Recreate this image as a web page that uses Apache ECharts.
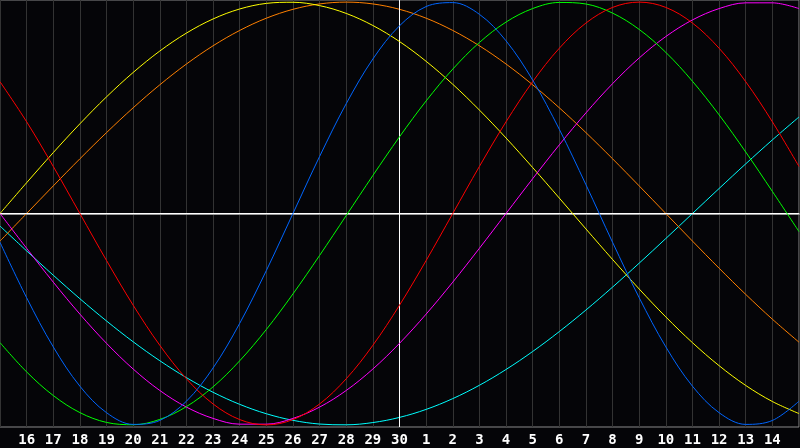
<!DOCTYPE html>
<html>
<head>
<meta charset="utf-8">
<style>
html,body{margin:0;padding:0;background:#050508;}
#chart{width:800px;height:448px;}
</style>
<script src="https://cdn.jsdelivr.net/npm/echarts@6/dist/echarts.min.js"></script>
</head>
<body>
<div id="chart"></div>
<script>
// Day labels along the x axis (offset 0..30)
var dayLabels = [15,16,17,18,19,20,21,22,23,24,25,26,27,28,29,30,1,2,3,4,5,6,7,8,9,10,11,12,13,14,15];
var todayOffset = 15;

// Curve values read per day offset 0..30
var redValues = [0.6235,0.4339,0.2225,0,-0.2225,-0.4339,-0.6235,-0.7818,-0.9010,-0.9749,-1,-0.9749,-0.9010,-0.7818,-0.6235,-0.4339,-0.2225,0,0.2225,0.4339,0.6235,0.7818,0.9010,0.9749,1,0.9749,0.9010,0.7818,0.6235,0.4339,0.2225];
var blueValues = [-0.1362,-0.3984,-0.6311,-0.8170,-0.9423,-0.9977,-0.9791,-0.8880,-0.7308,-0.5196,-0.2698,0,0.2698,0.5196,0.7308,0.8880,0.9791,0.9977,0.9423,0.8170,0.6311,0.3984,0.1362,-0.1362,-0.3984,-0.6311,-0.8170,-0.9423,-0.9977,-0.9791,-0.8880];
var greenValues = [-0.6107,-0.7494,-0.8612,-0.9419,-0.9884,-0.9993,-0.9740,-0.9135,-0.8201,-0.6968,-0.5486,-0.3804,-0.1985,-0.0096,0.1798,0.3628,0.5325,0.6831,0.8090,0.9056,0.9695,0.9984,0.9911,0.9480,0.8707,0.7621,0.6255,0.4667,0.2908,0.1045,-0.0856];
var yellowValues = [0,0.1456,0.2881,0.4244,0.5518,0.6672,0.7686,0.8535,0.9203,0.9675,0.9940,0.9993,0.9834,0.9465,0.8894,0.8135,0.7199,0.6112,0.4894,0.3572,0.2174,0.0730,-0.0730,-0.2174,-0.3572,-0.4894,-0.6112,-0.7199,-0.8135,-0.8894,-0.9465];
var orangeValues = [-0.1305,0,0.1305,0.2588,0.3827,0.5,0.6088,0.7071,0.7934,0.8660,0.9239,0.9659,0.9914,1,0.9914,0.9659,0.9239,0.8660,0.7934,0.7071,0.6088,0.5,0.3827,0.2588,0.1305,0,-0.1305,-0.2588,-0.3827,-0.5,-0.6088];
var magentaValues = [0,-0.1646,-0.3247,-0.4759,-0.6142,-0.7357,-0.8372,-0.9158,-0.9694,-0.9966,-0.9966,-0.9694,-0.9158,-0.8372,-0.7357,-0.6142,-0.4759,-0.3247,-0.1646,0,0.1646,0.3247,0.4759,0.6142,0.7357,0.8372,0.9158,0.9694,0.9966,0.9966,0.9694];
var cyanValues = [-0.0593,-0.1769,-0.2920,-0.4031,-0.5085,-0.6069,-0.6965,-0.7765,-0.8457,-0.9028,-0.9473,-0.9785,-0.9961,-0.9996,-0.9890,-0.9646,-0.9267,-0.8757,-0.8126,-0.7379,-0.6528,-0.5586,-0.4566,-0.3482,-0.2349,-0.1183,0,0.1183,0.2349,0.3482,0.4566];

var seriesDefs = [
  {name:'cyan', color:'#00ffff', values:cyanValues},
  {name:'orange', color:'#ff8000', values:orangeValues},
  {name:'yellow', color:'#ffff00', values:yellowValues},
  {name:'magenta', color:'#ff00ff', values:magentaValues},
  {name:'green', color:'#00ff00', values:greenValues},
  {name:'red', color:'#ff0000', values:redValues},
  {name:'blue', color:'#0066ff', values:blueValues}
];

var chart = echarts.init(document.getElementById('chart'), null, {renderer:'canvas'});

var series = seriesDefs.map(function(s, i){
  return {
    type:'line', name:s.name, smooth:0.35, showSymbol:false, symbol:'none',
    data:s.values.map(function(v, d){ return [d, v]; }),
    lineStyle:{color:s.color, width:1}, itemStyle:{color:s.color},
    z: 3 + i
  };
});
series.push({
  type:'line', data:[], z:2,
  markLine:{
    silent:true, symbol:['none','none'], label:{show:false},
    lineStyle:{color:'#ffffff', width:1, type:'solid'},
    data:[{xAxis:todayOffset},{yAxis:0}]
  }
});

chart.setOption({
  animation:false,
  backgroundColor:'#050508',
  grid:{left:0, right:1, top:0, bottom:21, show:true, borderColor:'#8a8a8a', borderWidth:1, backgroundColor:'transparent'},
  xAxis:{
    type:'value', min:0, max:30, interval:1,
    axisLine:{show:true, lineStyle:{color:'#9a9a9a', width:2}},
    axisTick:{show:false},
    splitLine:{show:true, lineStyle:{color:'#333333', width:1}},
    axisLabel:{
      color:'#ffffff', fontFamily:'DejaVu Sans Mono', fontWeight:'bold', fontSize:14, margin:6,
      showMinLabel:false, showMaxLabel:false,
      formatter:function(v){ return String(dayLabels[Math.round(v)]); }
    }
  },
  yAxis:{
    type:'value', min:-1.01, max:1.01,
    show:false, splitLine:{show:false}
  },
  series:series
});
</script>
</body>
</html>
